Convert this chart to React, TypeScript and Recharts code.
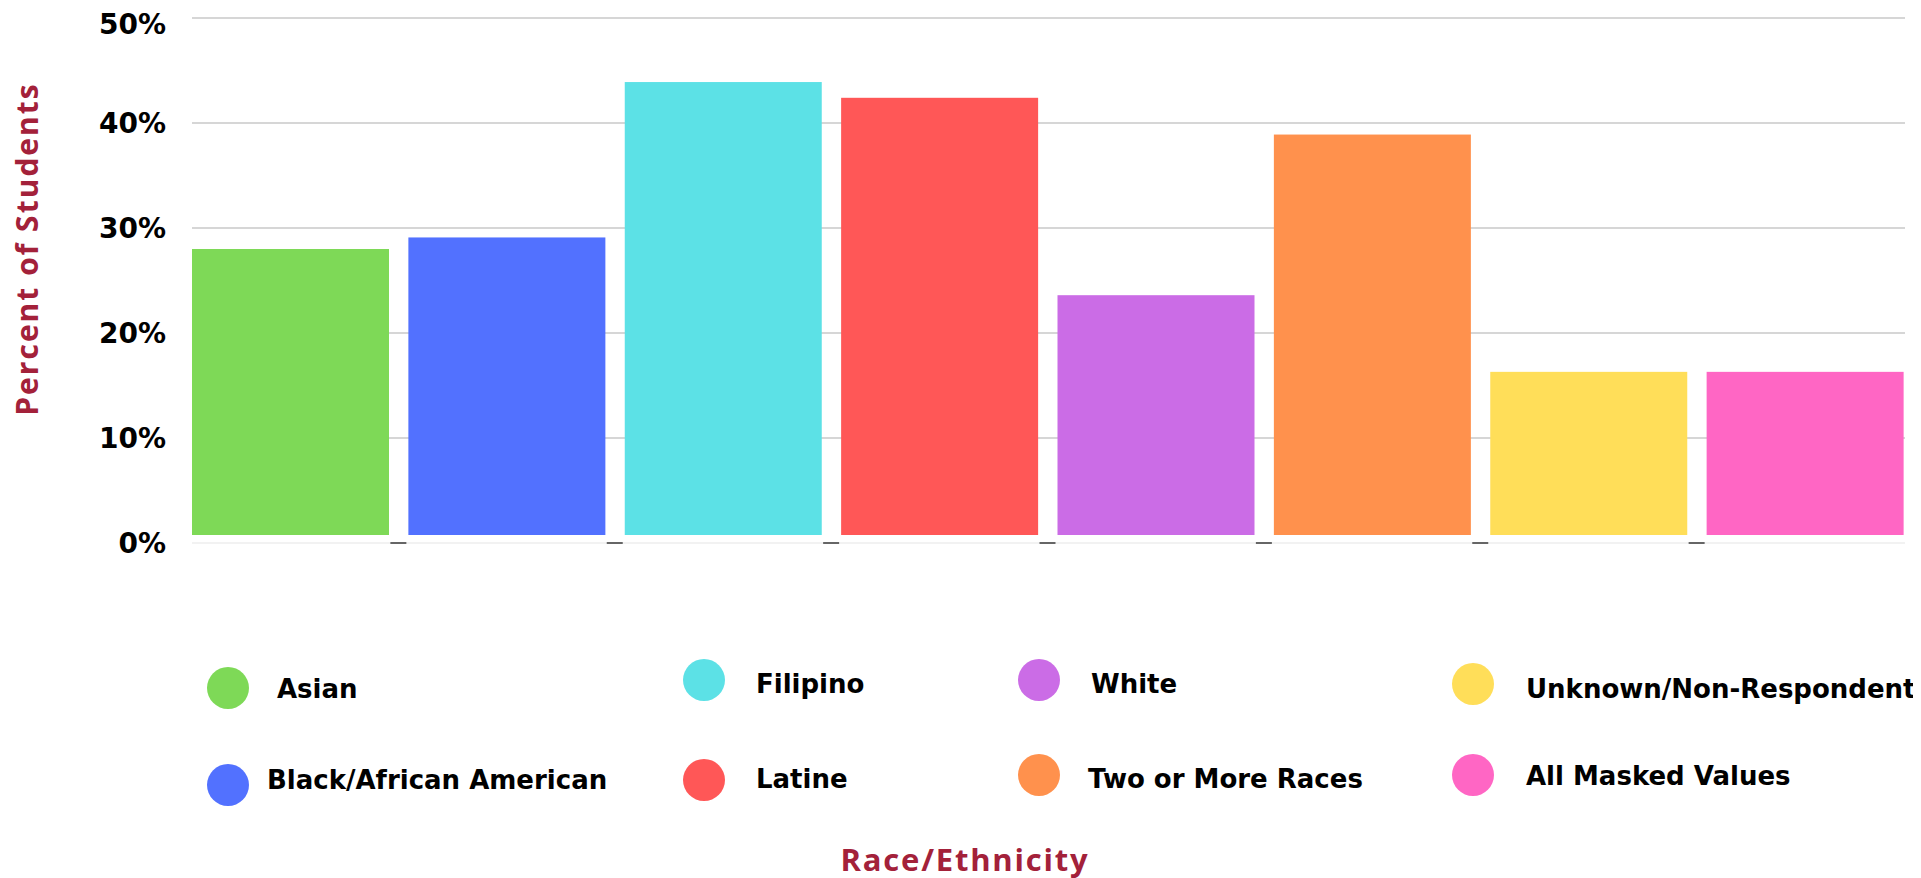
import React from 'react';
import { BarChart, Bar, XAxis, YAxis, CartesianGrid, Cell } from 'recharts';

const categories = [
  'Asian',
  'Black/African American',
  'Filipino',
  'Latine',
  'White',
  'Two or More Races',
  'Unknown/Non-Respondent',
  'All Masked Values',
];
const values = [28.0, 29.1, 43.9, 42.4, 23.6, 38.9, 16.3, 16.3];
const colors = ['#7ED957', '#5271FF', '#5CE1E6', '#FF5757', '#CB6CE6', '#FF914D', '#FFDE59', '#FF66C4'];
const yTicks = [0, 10, 20, 30, 40, 50];

const yTitle = 'Percent of Students';
const xTitle = 'Race/Ethnicity';

const data = categories.map((name, i) => ({ name, value: values[i] }));

// layout constants (chart coordinates)
const W = 1913;
const H = 870;
const MARGIN = { top: 10, right: 8, left: 0, bottom: 315 };
const Y_AXIS_W = 174;
const X_AXIS_H = 20;
const PLOT_LEFT = MARGIN.left + Y_AXIS_W;
const PLOT_W = W - PLOT_LEFT - MARGIN.right;
const PLOT_BOTTOM = H - MARGIN.bottom - X_AXIS_H;
const BAND = PLOT_W / categories.length;
const CRIMSON = '#A3213A';

// legend layout in page coordinates
const LEGEND_POS = [
  { cx: 228, cy: 688, tx: 277, ty: 688 },
  { cx: 228, cy: 785, tx: 267, ty: 779 },
  { cx: 704, cy: 680, tx: 756, ty: 683 },
  { cx: 704, cy: 780, tx: 756, ty: 778 },
  { cx: 1039, cy: 680, tx: 1091, ty: 683 },
  { cx: 1039, cy: 775, tx: 1088, ty: 778 },
  { cx: 1473, cy: 684, tx: 1526, ty: 688 },
  { cx: 1473, cy: 775, tx: 1526, ty: 775 },
];

const gridLine = (props: any) => {
  const { x1, x2, y1, y2, key } = props;
  const isBase = Math.abs(y1 - PLOT_BOTTOM) < 1;
  return (
    <line
      key={key ?? `g-${y1}`}
      x1={x1 + 10}
      x2={x2 - 8}
      y1={y1}
      y2={y2}
      stroke={isBase ? '#eeeeee' : '#c8c8c8'}
      strokeWidth={1.5}
    />
  );
};

const DashTick = (props: any) => {
  const { x, y, index } = props;
  if (index >= categories.length - 1) return <g />;
  const bx = x + BAND / 2;
  return <line x1={bx - 8} x2={bx + 8} y1={y} y2={y} stroke="#666" strokeWidth={2} />;
};

const BarShape = (props: any) => {
  const { x, y, width, height, index } = props;
  return <rect x={x} y={y} width={width} height={Math.max(0, height - 8)} fill={colors[index]} />;
};

export default function App() {
  return (
    <div style={{ position: 'relative', width: W, height: H }}>
      <BarChart width={W} height={H} data={data} margin={MARGIN} barCategoryGap={0}>
        <CartesianGrid vertical={false} horizontal={gridLine} />
        <XAxis
          dataKey="name"
          height={X_AXIS_H}
          axisLine={false}
          tickLine={false}
          tickSize={0}
          tickMargin={0}
          interval={0}
          tick={<DashTick />}
          label={{
            content: () => (
              <text
                x={957}
                y={851}
                textAnchor="middle"
                dominantBaseline="central"
                fill={CRIMSON}
                fontFamily="'Open Sans', sans-serif"
                fontWeight={700}
                fontSize={31}
                letterSpacing={1.8}
              >
                {xTitle}
              </text>
            ),
          }}
        />
        <YAxis
          width={Y_AXIS_W}
          domain={[0, 50]}
          ticks={yTicks}
          axisLine={false}
          tickLine={false}
          tickMargin={10}
          tickFormatter={(v: number) => `${v}%`}
          tick={{ fill: '#000', fontSize: 28, fontWeight: 700, fontFamily: 'DejaVu Sans, sans-serif' }}
          label={{
            content: () => (
              <text
                x={18}
                y={241}
                transform="rotate(-90 18 241)"
                textAnchor="middle"
                dominantBaseline="central"
                fill={CRIMSON}
                fontFamily="'Open Sans', sans-serif"
                fontWeight={700}
                fontSize={30}
                letterSpacing={2}
              >
                {yTitle}
              </text>
            ),
          }}
        />
        <Bar dataKey="value" barSize={197} isAnimationActive={false} shape={<BarShape />}>
          {data.map((d, i) => (
            <Cell key={d.name} fill={colors[i]} />
          ))}
        </Bar>
      </BarChart>
      <svg
        width={W}
        height={H}
        style={{ position: 'absolute', left: 0, top: 0, pointerEvents: 'none' }}
      >
        {categories.map((c, i) => {
          const p = LEGEND_POS[i];
          return (
            <g key={c}>
              <circle cx={p.cx - 8} cy={p.cy - 8} r={21} fill={colors[i]} />
              <text
                x={p.tx - 8}
                y={p.ty - 8 + 9.5}
                fill="#000"
                fontFamily="'DejaVu Sans', sans-serif"
                fontWeight={700}
                fontSize={26}
              >
                {c}
              </text>
            </g>
          );
        })}
      </svg>
    </div>
  );
}
